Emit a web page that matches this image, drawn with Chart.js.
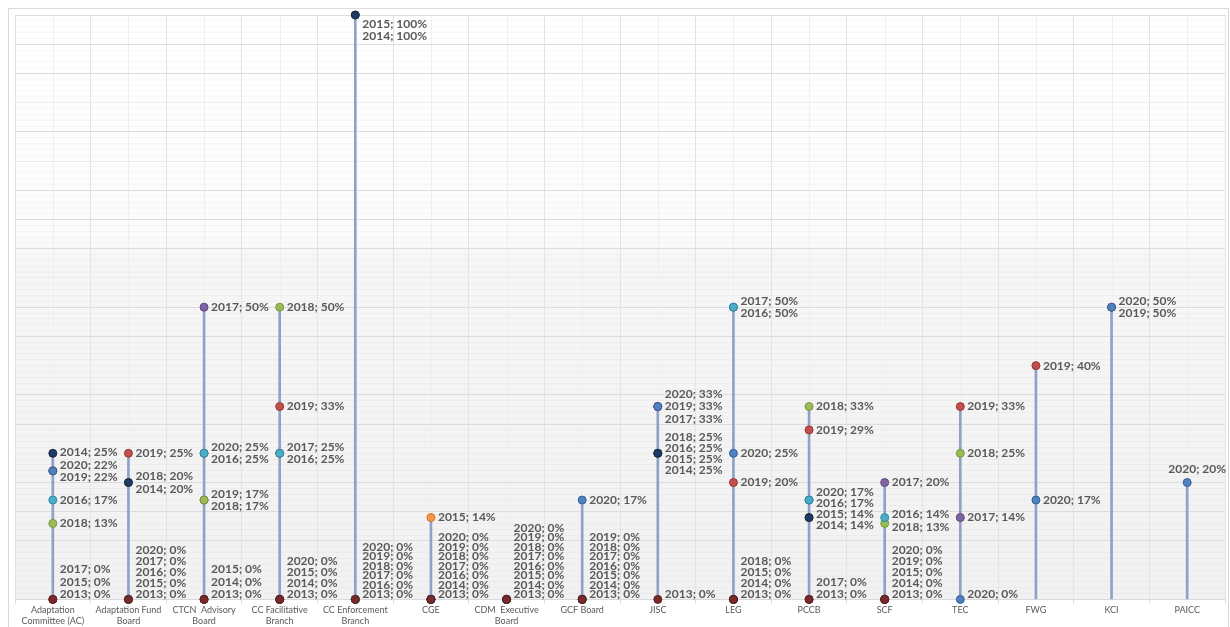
<!DOCTYPE html>
<html>
<head>
<meta charset="utf-8">
<script src="https://cdn.jsdelivr.net/npm/chart.js@4.4.1/dist/chart.umd.min.js"></script>
<style>
html,body{margin:0;padding:0;background:#ffffff;}
#wrap{width:1230px;height:627px;position:relative;}
</style>
</head>
<body>
<div id="wrap"><canvas id="c"></canvas></div>
<script>
// ---------- data ----------
const categories = [
  ['Adaptation','Committee (AC)'],
  ['Adaptation Fund','Board'],
  ['CTCN  Advisory','Board'],
  ['CC Facilitative','Branch'],
  ['CC Enforcement','Branch'],
  'CGE',
  ['CDM  Executive','Board'],
  'GCF Board',
  'JISC',
  'LEG',
  'PCCB',
  'SCF',
  'TEC',
  'FWG',
  'KCI',
  'PAICC'
];
const years = ['2013','2014','2015','2016','2017','2018','2019','2020'];
const v2013 = [0, 0, 0, 0, 0,   0,  0, 0,  0,  0,  0,  0,  null, null, null, null];
const v2014 = [25,20, 0, 0, 100, 0,  0, 0,  25, 0,  14, 0,  null, null, null, null];
const v2015 = [0, 0, 0, 0, 100, 14, 0, 0,  25, 0,  14, 0,  null, null, null, null];
const v2016 = [17,0, 25,25, 0,   0,  0, 0,  25, 50, 17, 14, null, null, null, null];
const v2017 = [0, 0, 50,25, 0,   0,  0, 0,  33, 50, 0,  20, 14,   null, null, null];
const v2018 = [13,20,17,50, 0,   0,  0, 0,  25, 0,  33, 13, 25,   null, null, null];
const v2019 = [22,25,17,33, 0,   0,  0, 0,  33, 20, 29, 0,  33,   40,   50,   null];
const v2020 = [22,0, 25,0,  0,   0,  0, 17, 33, 25, 17, 0,  0,    17,   50,   20];
const seriesValues = [v2013, v2014, v2015, v2016, v2017, v2018, v2019, v2020];

// ---------- styles ----------
const seriesColors = ['#7A2A2A','#1F3A64','#F79646','#4BACC6','#8064A2','#9BBB59','#C0504D','#4F81BD'];
const seriesBorders = ['#5A1E1E','#14284A','#C9722E','#2F8AA3','#5E4780','#789741','#9A3532','#3460A0'];
const drawOrder = [2, 3, 6, 4, 8, 5, 9, 7]; // higher = drawn earlier
const majorGrid = [10,15,20,30,35,45,50,60,65,70,80,90,95,100];

const stemData = categories.map((_, i) => {
  const vals = seriesValues.map(s => s[i]).filter(v => v !== null);
  return [0, Math.max(...vals)];
});

const datasets = [{
  type: 'bar',
  data: stemData,
  backgroundColor: '#8FA1C6',
  barThickness: 2,
  order: 20
}];
seriesValues.forEach((vals, k) => {
  datasets.push({
    type: 'line',
    label: years[k],
    data: vals,
    showLine: false,
    pointRadius: 4,
    pointHoverRadius: 4,
    pointBorderWidth: 1,
    pointBackgroundColor: seriesColors[k],
    pointBorderColor: seriesBorders[k],
    clip: false,
    order: drawOrder[k]
  });
});

const bgPlugin = {
  id: 'bg',
  beforeDraw(chart) {
    const {ctx, chartArea: a, scales: {x}} = chart;
    ctx.save();
    ctx.fillStyle = '#ffffff';
    ctx.fillRect(0, 0, chart.width, chart.height);
    const g = ctx.createLinearGradient(0, a.top, 0, a.bottom);
    g.addColorStop(0, '#ffffff');
    g.addColorStop(0.38, '#fbfbfb');
    g.addColorStop(0.42, '#f6f6f6');
    g.addColorStop(1, '#f1f1f1');
    ctx.fillStyle = g;
    ctx.fillRect(a.left, a.top, a.right - a.left, a.bottom - a.top);
    ctx.strokeStyle = '#f0f0f0';
    ctx.lineWidth = 1;
    categories.forEach((_, i) => {
      const px = Math.round(x.getPixelForValue(i)) + 0.5;
      ctx.beginPath(); ctx.moveTo(px, a.top); ctx.lineTo(px, a.bottom); ctx.stroke();
    });
    ctx.strokeStyle = '#d9d9d9';
    ctx.strokeRect(8.5, 8.5, chart.width - 10, chart.height + 20);
    ctx.restore();
  }
};

function hFor(n) { return n <= 3 ? 12.5 : (n <= 5 ? 11 : 9.5); }

const labelPlugin = {
  id: 'labels',
  afterDatasetsDraw(chart) {
    const {ctx, chartArea: a, scales: {x, y}} = chart;
    ctx.save();
    ctx.font = 'bold 12px Lato, "Open Sans", sans-serif';
    ctx.fillStyle = '#595959';
    ctx.textBaseline = 'middle';
    const minY = a.top + 9, maxY = a.bottom - 5, gap = 11.5;
    categories.forEach((_, i) => {
      const items = [];
      seriesValues.forEach((vals, k) => {
        if (vals[i] !== null) items.push({year: years[k], value: vals[i], k, y: y.getPixelForValue(vals[i])});
      });
      items.sort((p, q) => q.value - p.value || q.k - p.k);
      const px = x.getPixelForValue(i);
      let clusters = [];
      items.forEach(it => {
        const last = clusters[clusters.length - 1];
        if (last && last.items[0].value === it.value) last.items.push(it);
        else clusters.push({items: [it]});
      });
      const place = c => {
        const n = c.items.length, h = hFor(n);
        const center = c.items.reduce((s, it) => s + it.y, 0) / n;
        let top = center - (n - 1) * h / 2;
        if (top < minY) top = minY;
        if (top + (n - 1) * h > maxY) top = maxY - (n - 1) * h;
        c.h = h; c.top = top; c.bottom = top + (n - 1) * h;
      };
      let changed = true;
      while (changed) {
        changed = false;
        clusters.forEach(place);
        for (let j = 0; j < clusters.length - 1; j++) {
          if (clusters[j].bottom + gap > clusters[j + 1].top) {
            clusters[j].items = clusters[j].items.concat(clusters[j + 1].items);
            clusters.splice(j + 1, 1);
            changed = true;
            break;
          }
        }
      }
      clusters.forEach(c => {
        c.items.forEach((it, m) => {
          const text = it.year + '; ' + it.value + '%';
          const w = ctx.measureText(text).width;
          const ly = c.top + m * c.h;
          if (px + 7 + w > a.right) {
            ctx.textAlign = 'center';
            ctx.fillText(text, Math.min(px + 10, chart.width - w / 2 - 1), it.y - 13);
          } else {
            ctx.textAlign = 'left';
            ctx.fillText(text, px + 7, ly);
          }
        });
      });
    });
    ctx.restore();
  }
};

new Chart(document.getElementById('c'), {
  type: 'bar',
  data: { labels: categories, datasets },
  options: {
    responsive: true,
    maintainAspectRatio: false,
    animation: false,
    layout: { padding: { left: 15, right: 2, top: 15, bottom: 0 } },
    plugins: { legend: { display: false }, tooltip: { enabled: false } },
    scales: {
      x: {
        offset: true,
        grid: {
          offset: true,
          color: '#e4e4e4',
          drawTicks: true,
          tickLength: 4,
          tickColor: '#d9d9d9'
        },
        border: { display: true, color: '#d9d9d9' },
        ticks: {
          color: '#595959',
          font: { family: 'Lato, "Open Sans", sans-serif', size: 9 },
          padding: 1,
          maxRotation: 0,
          autoSkip: false
        }
      },
      y: {
        min: 0,
        max: 100,
        grid: {
          drawTicks: false,
          color: c => {
            const v = c.tick.value;
            if (majorGrid.includes(v)) return '#dcdcdc';
            if (v % 5 === 0) return '#ececec';
            return 'rgba(0,0,0,0.025)';
          }
        },
        border: { display: false },
        ticks: { display: false, stepSize: 1 }
      }
    }
  },
  plugins: [bgPlugin, labelPlugin]
});
</script>
</body>
</html>
